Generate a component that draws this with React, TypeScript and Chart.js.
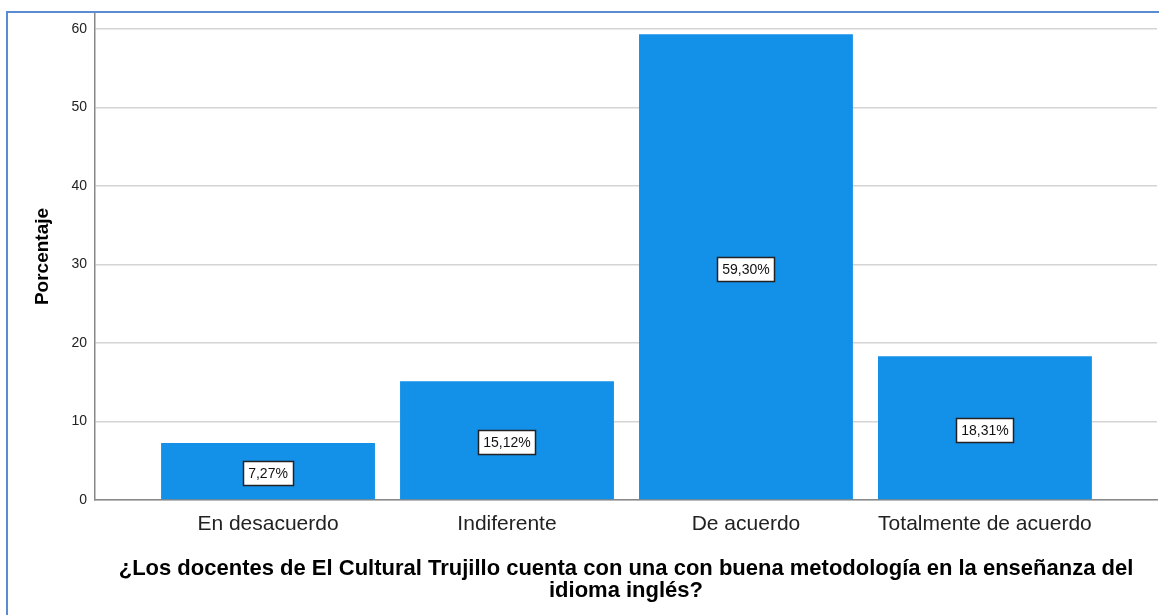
import React, { useEffect, useRef } from "react";
import { Chart, registerables } from "chart.js";

Chart.register(...registerables);

const categories = ["En desacuerdo", "Indiferente", "De acuerdo", "Totalmente de acuerdo"];
const values = [7.27, 15.12, 59.3, 18.31];
const valueLabels = ["7,27%", "15,12%", "59,30%", "18,31%"];
const yTicks = [0, 10, 20, 30, 40, 50, 60];
const yTitle = "Porcentaje";
const xTitle = [
  "¿Los docentes de El Cultural Trujillo cuenta con una con buena metodología en la enseñanza del",
  "idioma inglés?",
];

const FONT = "'Liberation Sans', Arial, sans-serif";

const labelPlugin = {
  id: "boxLabels",
  afterDatasetsDraw(chart: any) {
    const ctx = chart.ctx;
    const meta = chart.getDatasetMeta(0);
    ctx.save();
    ctx.font = `14px ${FONT}`;
    ctx.textAlign = "center";
    ctx.textBaseline = "middle";
    meta.data.forEach((el: any, i: number) => {
      const text = valueLabels[i];
      const cx = el.x;
      const cy = (el.y + el.base) / 2 + 2;
      const w = Math.round(ctx.measureText(text).width + 10);
      const h = 24;
      const bx = Math.round(cx - w / 2) + 0.5;
      const by = Math.round(cy - h / 2) + 0.5;
      ctx.fillStyle = "#ffffff";
      ctx.fillRect(bx, by, w, h);
      ctx.strokeStyle = "#222222";
      ctx.lineWidth = 1.5;
      ctx.strokeRect(bx, by, w, h);
      ctx.fillStyle = "#111111";
      ctx.fillText(text, cx, cy + 1);
    });
    ctx.restore();
  },
};

export default function App() {
  const ref = useRef<HTMLCanvasElement | null>(null);
  useEffect(() => {
    if (!ref.current) return;
    const chart = new Chart(ref.current, {
      type: "bar",
      data: {
        datasets: [
          {
            data: categories.map((_, i) => ({ x: i, y: values[i] })),
            backgroundColor: "#1391e8",
            borderWidth: 0,
            categoryPercentage: 1,
            barPercentage: 0.895,
          },
        ],
      },
      plugins: [labelPlugin],
      options: {
        animation: false,
        responsive: false,
        maintainAspectRatio: false,
        layout: { padding: { left: 0, top: 13, right: 2, bottom: 0 } },
        plugins: { legend: { display: false }, tooltip: { enabled: false } },
        scales: {
          x: {
            type: "linear",
            offset: false,
            min: -0.724,
            max: 3.72,
            afterBuildTicks(scale: any) {
              scale.ticks = categories.map((_, i) => ({ value: i }));
            },
            afterFit(scale: any) {
              scale.height = 115;
              scale.paddingLeft = 0;
              scale.paddingRight = 0;
            },
            ticks: {
              autoSkip: false,
              maxRotation: 0,
              padding: 4,
              color: "#222222",
              font: { family: FONT, size: 21 },
              callback: (v: any) => categories[v as number] ?? "",
            },
            grid: { display: false },
            border: { display: true, color: "#888888", width: 1.5 },
            title: {
              display: true,
              text: xTitle,
              color: "#000000",
              font: { family: FONT, size: 22, weight: "bold", lineHeight: 1.0 },
              padding: { top: 0, bottom: 13 },
            },
          },
          y: {
            min: 0,
            max: 62,
            afterBuildTicks(scale: any) {
              scale.ticks = yTicks.map((v) => ({ value: v }));
            },
            afterFit(scale: any) {
              scale.width = 95;
              scale.paddingTop = 0;
              scale.paddingBottom = 0;
            },
            ticks: {
              padding: 8,
              color: "#222222",
              font: { family: FONT, size: 14 },
            },
            grid: { color: "#d4d4d4", lineWidth: 1.5, drawTicks: false },
            border: { display: true, color: "#888888", width: 1.5 },
            title: {
              display: true,
              text: yTitle,
              color: "#000000",
              font: { family: FONT, size: 19, weight: "bold", lineHeight: 1.2 },
              padding: { top: 31, bottom: 0 },
            },
          },
        },
      },
    });
    return () => chart.destroy();
  }, []);
  return (
    <div style={{ position: "fixed", left: 0, top: 0, width: 1159, height: 615, background: "#ffffff" }}>
      <canvas ref={ref} width={1159} height={615} style={{ position: "absolute", left: 0, top: 0 }} />
      <div
        style={{
          position: "absolute",
          left: 6,
          top: 11,
          width: 1159,
          height: 615,
          borderLeft: "2px solid #5a8ccf",
          borderTop: "2px solid #5a8ccf",
          pointerEvents: "none",
        }}
      />
    </div>
  );
}
